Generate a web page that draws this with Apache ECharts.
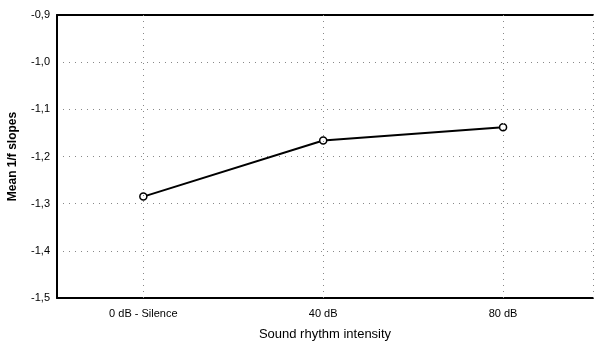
<!DOCTYPE html>
<html>
<head>
<meta charset="utf-8">
<script src="https://cdn.jsdelivr.net/npm/echarts@6/dist/echarts.min.js"></script>
<style>
  html, body { margin: 0; padding: 0; background: #fff; }
  #chart { width: 594px; height: 344px; }
</style>
</head>
<body>
<div id="chart"></div>
<script>
// data
const categories = ['0 dB - Silence', '40 dB', '80 dB'];
const slopes = [-1.285, -1.166, -1.138];

const catIdx = categories.map((c, i) => i);
const points = slopes.map((v, i) => [i, v]);

const chart = echarts.init(document.getElementById('chart'));
const font = 'Liberation Sans, Arial, sans-serif';
const gridDots = { color: '#888', type: [1, 5], width: 1 };

const option = {
  animation: false,
  grid: { left: 57, right: 1, top: 15, bottom: 46, outerBoundsMode: 'none', containLabel: false },
  xAxis: [
    {
      type: 'value',
      min: -0.48,
      max: 2.5,
      axisLine: { show: true, onZero: false, lineStyle: { color: '#000', width: 2 } },
      axisTick: { show: false, customValues: catIdx },
      axisLabel: {
        customValues: catIdx,
        formatter: (v) => categories[Math.round(v)] || '',
        color: '#000', fontFamily: font, fontSize: 11, margin: 10
      },
      splitLine: { show: false },
      name: 'Sound rhythm intensity',
      nameLocation: 'middle',
      nameGap: 30,
      nameTextStyle: { color: '#000', fontFamily: font, fontSize: 13 }
    },
    {
      type: 'value',
      position: 'top',
      min: -0.48,
      max: 2.5,
      axisLine: { show: true, onZero: false, lineStyle: { color: '#000', width: 2 } },
      axisTick: { show: false },
      axisLabel: { show: false },
      splitLine: { show: false }
    }
  ],
  yAxis: {
    type: 'value',
    min: -1.5,
    max: -0.9,
    interval: 0.1,
    axisLine: { show: true, onZero: false, lineStyle: { color: '#000', width: 2 } },
    axisTick: { show: false },
    axisLabel: {
      formatter: (v) => v.toFixed(1).replace('.', ','),
      color: '#000', fontFamily: font, fontSize: 11, margin: 7
    },
    splitLine: { show: true, lineStyle: gridDots },
    name: 'Mean 1/f slopes',
    nameLocation: 'middle',
    nameGap: 38,
    nameTextStyle: { color: '#000', fontFamily: font, fontSize: 12, fontWeight: 'bold' }
  },
  series: [
    {
      type: 'line',
      data: points,
      symbol: 'circle',
      symbolSize: 7,
      itemStyle: { color: '#fff', borderColor: '#000', borderWidth: 1.5 },
      lineStyle: { color: '#000', width: 2 },
      markLine: {
        silent: true,
        symbol: 'none',
        label: { show: false },
        lineStyle: gridDots,
        data: catIdx.map((i) => ({ xAxis: i })).concat([{ xAxis: 2.5 }])
      },
      z: 3
    }
  ]
};

chart.setOption(option);
</script>
</body>
</html>
